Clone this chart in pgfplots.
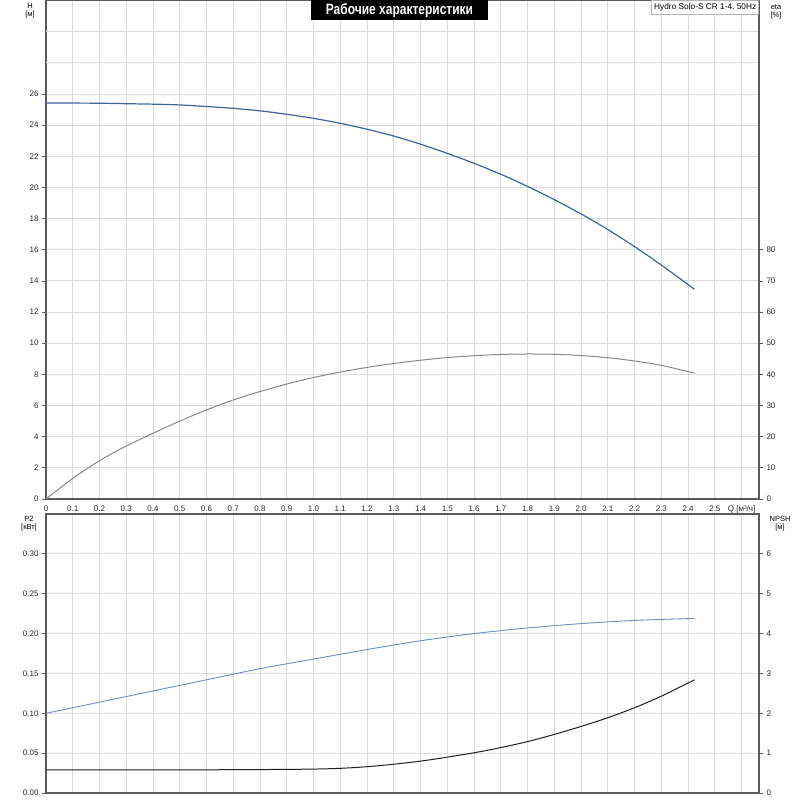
\documentclass[border=0pt]{standalone}
\usepackage{pgfplots}
\pgfplotsset{compat=1.18}
\usepackage{fontspec}
\setmainfont{Liberation Sans}
\definecolor{gridc}{RGB}{220,220,220}
\definecolor{axc}{RGB}{90,90,90}
\definecolor{hcol}{RGB}{60,100,155}
\definecolor{etacol}{RGB}{135,135,135}
\definecolor{pcol}{RGB}{110,140,190}
\definecolor{ncol}{RGB}{30,30,30}
\pgfplotsset{
  base/.style={
    scale only axis, anchor=south west,
    width=713pt,
    xmin=0, xmax=2.665,
    /pgf/number format/assume math mode=true,
    tick label style={font=\fontsize{8}{9}\selectfont, color=black!85},
    axis line style={draw=axc, line width=1.3pt},
    grid style={draw=gridc, line width=1.0pt},
    tick style={draw=axc, line width=0.8pt},
    tick align=outside,
    major tick length=4pt,
    xtick={0,0.1,0.2,0.3,0.4,0.5,0.6,0.7,0.8,0.9,1.0,1.1,1.2,1.3,1.4,1.5,1.6,1.7,1.8,1.9,2.0,2.1,2.2,2.3,2.4,2.5,2.6},
    x tick style={draw=none},
    xtick pos=bottom,
  }
}
\begin{document}
\begin{tikzpicture}
\useasboundingbox (0,0) rectangle (800pt,800pt);
% ---------- top panel: H ----------
\begin{axis}[base, at={(46pt,301pt)}, height=498.4pt,
  ymin=0, ymax=32,
  ytick pos=left,
  ytick={0,2,...,26},
  extra y ticks={28,30},
  extra y tick labels={},
  extra y tick style={major tick length=0pt, grid=major},
  grid=major,
  xticklabels={0,0.1,0.2,0.3,0.4,0.5,0.6,0.7,0.8,0.9,1.0,1.1,1.2,1.3,1.4,1.5,1.6,1.7,1.8,1.9,2.0,2.1,2.2,2.3,2.4,2.5,{Q [м³/ч]}},
  xticklabel style={yshift=1pt},
]
\addplot[hcol, line width=1.2pt, smooth] coordinates {
(0,25.42)(0.1,25.42)(0.2,25.41)(0.3,25.38)(0.4,25.35)(0.5,25.3)(0.6,25.2)(0.7,25.08)(0.8,24.92)(0.9,24.70)(1.0,24.44)(1.1,24.12)(1.2,23.74)(1.3,23.3)(1.4,22.78)(1.5,22.19)(1.6,21.55)(1.7,20.85)(1.8,20.07)(1.9,19.22)(2.0,18.3)(2.1,17.3)(2.2,16.2)(2.3,15.02)(2.424,13.46)
};
\end{axis}
\begin{axis}[base, at={(46pt,301pt)}, height=498.4pt,
  ymin=0, ymax=160,
  axis x line=none,
  axis y line*=right,
  ytick={0,10,...,80},
]
\addplot[etacol, line width=1.0pt, smooth] coordinates {
(0,0)(0.1,6.6)(0.2,12.3)(0.3,17.0)(0.4,21.1)(0.5,25.0)(0.6,28.6)(0.7,31.8)(0.8,34.5)(0.9,36.9)(1.0,39.0)(1.1,40.75)(1.2,42.25)(1.3,43.5)(1.4,44.55)(1.5,45.4)(1.6,46.0)(1.7,46.4)(1.8,46.55)(1.9,46.45)(2.0,46.05)(2.1,45.35)(2.2,44.3)(2.3,42.9)(2.424,40.4)
};
\end{axis}
% ---------- bottom panel: P2 ----------
\begin{axis}[base, at={(46pt,7pt)}, height=279pt,
  ymin=0, ymax=0.35,
  ytick pos=left,
  ytick={0,0.05,0.10,0.15,0.20,0.25,0.30},
  yticklabel style={/pgf/number format/.cd, fixed, fixed zerofill, precision=2},
  grid=major,
  xticklabels={},
]
\addplot[pcol, line width=0.9pt, smooth] coordinates {
(0,0.100)(0.2,0.114)(0.4,0.128)(0.6,0.142)(0.8,0.156)(1.0,0.168)(1.2,0.180)(1.4,0.191)(1.6,0.200)(1.8,0.207)(2.0,0.2125)(2.2,0.2165)(2.424,0.219)
};
\end{axis}
\begin{axis}[base, at={(46pt,7pt)}, height=279pt,
  ymin=0, ymax=7,
  axis x line=none,
  axis y line*=right,
  ytick={0,1,...,6},
]
\addplot[ncol, line width=1.0pt, smooth] coordinates {
(0,0.58)(0.5,0.58)(1.0,0.60)(1.2,0.66)(1.4,0.80)(1.6,1.01)(1.7,1.14)(1.8,1.29)(1.9,1.47)(2.0,1.67)(2.1,1.89)(2.2,2.14)(2.3,2.43)(2.424,2.84)
};
\end{axis}
% ---------- labels ----------
\node[fill=black, text=white, inner sep=0pt, minimum width=177pt, minimum height=20pt, anchor=north] at (399.5pt,800pt)
  {\scalebox{0.8}[1]{\fontsize{15}{17}\selectfont\bfseries Рабочие характеристики}};
\node[fill=white, draw=gray!60, line width=0.6pt, inner sep=0pt, minimum width=107pt, minimum height=14pt, anchor=north east, font=\fontsize{8.3}{9}\selectfont] at (759pt,800pt) {Hydro Solo-S CR 1-4, 50Hz};
\node[font=\fontsize{7.5}{9}\selectfont, align=center, anchor=north] at (30pt,800pt) {H\\[-1pt][м]};
\node[font=\fontsize{7.5}{9}\selectfont, align=center, anchor=north] at (776pt,799pt) {eta\\[-1pt][\%]};
\node[font=\fontsize{7.5}{9}\selectfont, align=center, anchor=north] at (29pt,287pt) {P2\\[-1pt][кВт]};
\node[font=\fontsize{7.5}{9}\selectfont, align=center, anchor=north] at (780pt,287pt) {NPSH\\[-1pt][м]};
\end{tikzpicture}
\end{document}
